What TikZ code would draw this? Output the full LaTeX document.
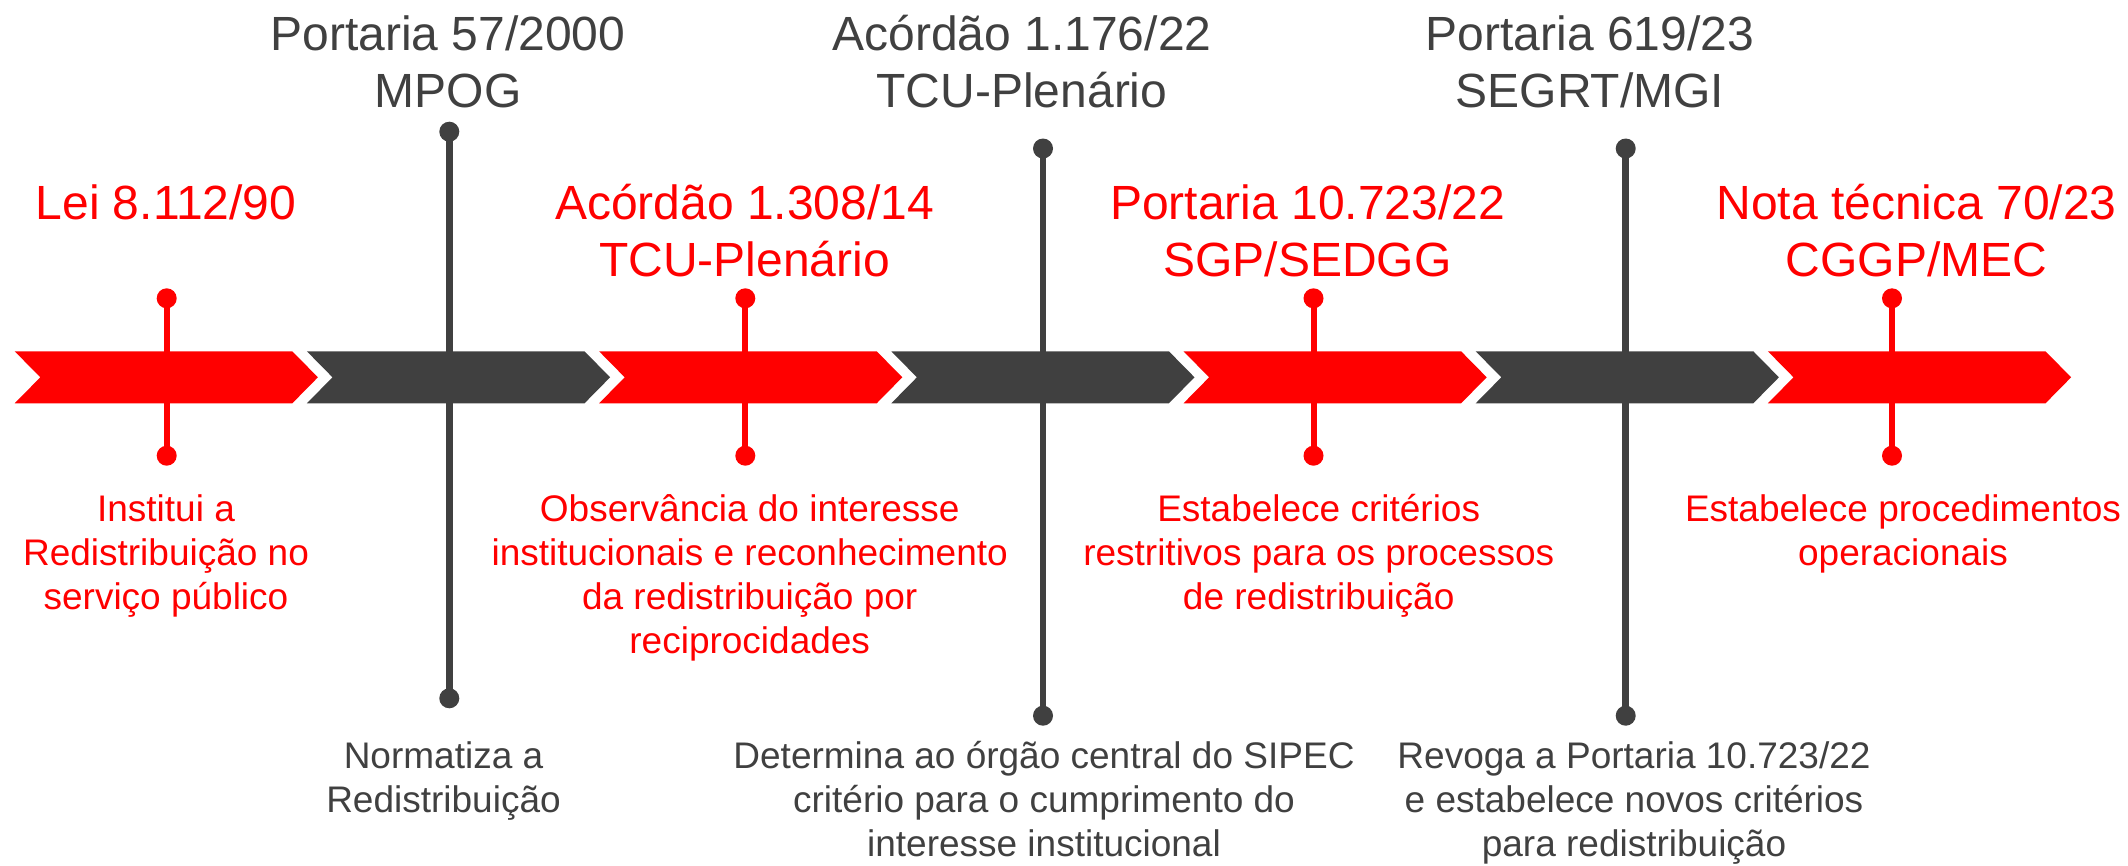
\documentclass[tikz,border=0pt]{standalone}
\usepackage{fontspec}
\setmainfont{Liberation Sans}
\definecolor{markred}{RGB}{255,0,0}
\definecolor{markgray}{RGB}{64,64,64}
\tikzset{
  pics/chevron/.style={code={
    \fill (0,-26) -- (277.6,-26) -- (303.2,0) -- (277.6,26) -- (0,26) -- (25.6,0) -- cycle;}},
  redstem/.style={draw=markred,line width=6pt},
  graystem/.style={draw=markgray,line width=6.5pt},
  reddot/.style={circle,fill=markred,inner sep=0pt,minimum size=20pt},
  graydot/.style={circle,fill=markgray,inner sep=0pt,minimum size=20pt},
  title/.style={anchor=base,inner sep=0pt,align=center,font=\fontsize{48}{56.6}\selectfont},
  remark/.style={anchor=base,inner sep=0pt,align=center,font=\fontsize{37}{44.3}\selectfont}
}
\begin{document}
\begin{tikzpicture}[x=1pt,y=-1pt]
        \useasboundingbox (0,0) rectangle (2128,865);
        % the arrow band
        \pic[fill=markred]  at (14.7,377.3)   {chevron};
        \pic[fill=markgray] at (306.9,377.3)  {chevron};
        \pic[fill=markred]  at (599.1,377.3)  {chevron};
        \pic[fill=markgray] at (891.3,377.3)  {chevron};
        \pic[fill=markred]  at (1183.5,377.3) {chevron};
        \pic[fill=markgray] at (1475.7,377.3) {chevron};
        \pic[fill=markred]  at (1767.9,377.3) {chevron};
        % red marks
        \node[reddot] (lei-t) at (166.7,298.3) {};
        \node[reddot] (lei-b) at (166.7,455.7) {};
        \node[reddot] (ac14-t) at (745.3,298.3) {};
        \node[reddot] (ac14-b) at (745.3,455.7) {};
        \node[reddot] (p22-t) at (1313.5,298.3) {};
        \node[reddot] (p22-b) at (1313.5,455.7) {};
        \node[reddot] (nt-t) at (1892,298.3) {};
        \node[reddot] (nt-b) at (1892,455.7) {};
        \draw[redstem] (lei-t.center)--(lei-b.center);
        \draw[redstem] (ac14-t.center)--(ac14-b.center);
        \draw[redstem] (p22-t.center)--(p22-b.center);
        \draw[redstem] (nt-t.center)--(nt-b.center);
        % gray marks
        \node[graydot] (p00-t) at (449.3,131.7) {};
        \node[graydot] (p00-b) at (449.3,698.3) {};
        \node[graydot] (ac22-t) at (1043,148.5) {};
        \node[graydot] (ac22-b) at (1043,715.7) {};
        \node[graydot] (p23-t) at (1625.7,148.5) {};
        \node[graydot] (p23-b) at (1625.7,715.7) {};
        \draw[graystem] (p00-t.center)--(p00-b.center);
        \draw[graystem] (ac22-t.center)--(ac22-b.center);
        \draw[graystem] (p23-t.center)--(p23-b.center);
        % titles (base = last line)
        \node[title,text=markgray] (p00) at (448,107.3) {Portaria 57/2000\\MPOG};
        \node[title,text=markgray] (ac22) at (1022,107.3) {Acórdão 1.176/22\\TCU-Plenário};
        \node[title,text=markgray] (p23) at (1590,107.3) {Portaria 619/23\\SEGRT/MGI};
        \node[title,text=markred] (lei) at (166,219.3) {Lei 8.112/90};
        \node[title,text=markred] (ac14) at (744.5,276.3) {Acórdão 1.308/14\\TCU-Plenário};
        \node[title,text=markred] (p22) at (1307.5,276.3) {Portaria 10.723/22\\SGP/SEDGG};
        \node[title,text=markred] (nt) at (1916.5,276.3) {Nota técnica 70/23\\CGGP/MEC};
        % what each one does
        \node[remark,text=markred] (lei-d) at (166,609.6) {Institui a\\Redistribuição no\\serviço público};
        \node[remark,text=markred] (ac14-d) at (749.7,653.9) {Observância do interesse\\institucionais e reconhecimento\\da redistribuição por\\reciprocidades};
        \node[remark,text=markred] (p22-d) at (1318.7,609.6) {Estabelece critérios\\restritivos para os processos\\de redistribuição};
        \node[remark,text=markred] (nt-d) at (1903,565.3) {Estabelece procedimentos\\operacionais};
        \node[remark,text=markgray] (p00-d) at (443.5,812.6) {Normatiza a\\Redistribuição};
        \node[remark,text=markgray] (ac22-d) at (1044,856.9) {Determina ao órgão central do SIPEC\\critério para o cumprimento do\\interesse institucional};
        \node[remark,text=markgray] (p23-d) at (1634,856.9) {Revoga a Portaria 10.723/22\\e estabelece novos critérios\\para redistribuição};
      \end{tikzpicture}
\end{document}
